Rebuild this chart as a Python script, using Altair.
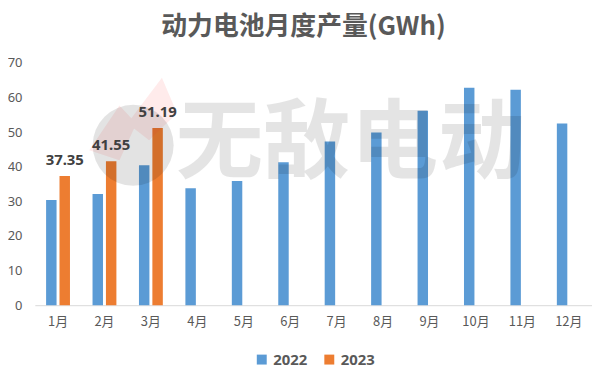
import altair as alt
import pandas as pd

months = ["1月", "2月", "3月", "4月", "5月", "6月", "7月", "8月", "9月", "10月", "11月", "12月"]
v2022 = [30.4, 32.1, 40.4, 33.8, 35.9, 41.3, 47.3, 49.9, 56.2, 62.8, 62.2, 52.5]
v2023 = [37.35, 41.55, 51.19]
years = ["2022", "2023"]
colors = ["#5b9bd5", "#ed7d31"]
yticks = [0, 10, 20, 30, 40, 50, 60, 70]
title_text = "动力电池月度产量(GWh)"
watermark = ["无敌电动"]

rows = [{"month": m, "year": "2022", "value": v} for m, v in zip(months, v2022)]
rows += [{"month": m, "year": "2023", "value": v} for m, v in zip(months, v2023)]
df = pd.DataFrame(rows)
df23 = df[df["year"] == "2023"].copy()
df23["label"] = df23["value"].map(lambda v: f"{v:.2f}")

xenc = alt.X("month:N", sort=months, title=None,
             scale=alt.Scale(paddingInner=0.486, paddingOuter=0.243),
             axis=alt.Axis(labelFont="Noto Sans CJK SC", labelFontSize=13, labelColor="#595959",
                           labelPadding=10, ticks=False, tickSize=0, domainColor="#d9d9d9",
                           domainWidth=1, labelAngle=0, grid=False, labelOverlap=False))
yenc = alt.Y("value:Q", title=None,
             scale=alt.Scale(domain=[0, 70], nice=False),
             axis=alt.Axis(values=yticks, tickCount=8, labelFont="Noto Sans", labelFontSize=13,
                           labelColor="#595959", labelPadding=13, ticks=False, tickSize=0,
                           domain=False, grid=False, labelOverlap=False, labelFlush=False))
xoff = alt.XOffset("year:N", sort=years, scale=alt.Scale(paddingInner=0.22))

bars = alt.Chart(df).mark_bar().encode(
    x=xenc, y=yenc, xOffset=xoff,
    color=alt.Color("year:N", sort=years,
                    scale=alt.Scale(domain=years, range=colors),
                    legend=alt.Legend(title=None, orient="none", legendX=221, legendY=291,
                                      direction="horizontal", symbolType="square",
                                      symbolSize=100, symbolStrokeWidth=0,
                                      labelFont="Noto Sans", labelFontSize=15,
                                      labelFontWeight="bold", labelColor="#595959",
                                      columnPadding=14, labelOffset=4)),
)

labels = alt.Chart(df23).mark_text(font="Noto Sans", fontSize=15, fontWeight="bold",
                                   color="#404040", baseline="alphabetic", dy=-11).encode(
    x=xenc, y=yenc, xOffset=xoff, text="label:N")

logo_circle = alt.Chart(pd.DataFrame({"k": [1]})).mark_point(
    shape="circle", filled=True, color="black", opacity=0.11, size=6650).encode(
    x=alt.value(99), y=alt.value(83))

bolt_path = ("M0.63,-1.48 L0.96,-0.70 L0.35,-0.11 L0.02,-0.37 L-0.30,0.33 "
             "L-0.96,0.11 L-0.30,-0.87 L-0.04,-0.59 Z")
logo_bolt = alt.Chart(pd.DataFrame({"k": [1]})).mark_point(
    shape=bolt_path, filled=True, color="#ff3b3b", opacity=0.1, size=8464).encode(
    x=alt.value(99), y=alt.value(83))

wm = alt.Chart(pd.DataFrame({"t": watermark})).mark_text(
    font="Noto Sans CJK SC", fontSize=88, fontWeight="bold", color="black", opacity=0.1,
    align="center", baseline="middle").encode(
    x=alt.value(318), y=alt.value(84), text="t:N")

chart = alt.layer(bars, logo_bolt, logo_circle, wm, labels).properties(
    width=561, height=244,
    autosize=alt.AutoSizeParams(type="none"),
    padding={"left": 27, "top": 54, "right": 0, "bottom": 63},
    background="white",
    title=alt.TitleParams(title_text, font="Noto Sans CJK SC", fontSize=26, fontWeight="bold",
                          color="#595959", anchor="middle", dx=-10, offset=17),
).configure_view(stroke=None)

chart.save("out.html", embed_options={"renderer": "svg", "actions": False})
